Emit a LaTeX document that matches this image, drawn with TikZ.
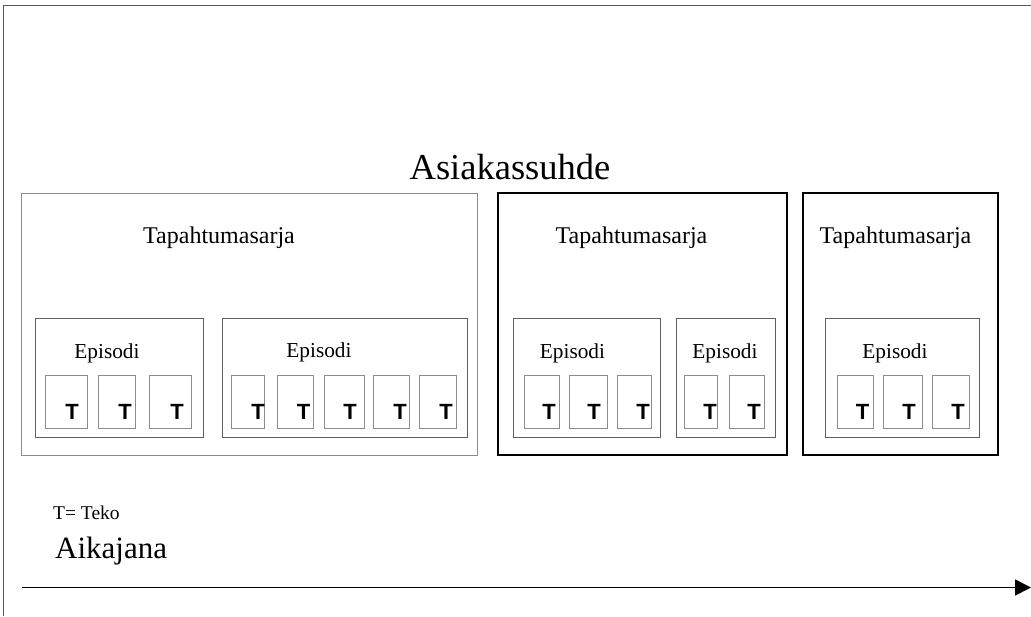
\documentclass[tikz,border=0pt]{standalone}
\usepackage{fontspec}
\setmainfont{Liberation Serif}
\newfontfamily\arialf{Liberation Sans}
\usetikzlibrary{arrows.meta}
\definecolor{framegray}{HTML}{555555}
\definecolor{lightgray}{HTML}{8C8C8C}
\definecolor{midgray}{HTML}{606060}
\begin{document}
\begin{tikzpicture}[x=1pt,y=-1pt,
  serbox/.style={draw=lightgray,line width=1pt},
  serboxdark/.style={draw=black,line width=1.2pt},
  episbox/.style={draw=midgray,line width=1pt},
  tbox/.style={draw=lightgray,line width=1pt},
  sertitle/.style={anchor=base,inner sep=0pt,font=\fontsize{24}{28}\selectfont},
  epititle/.style={anchor=base,inner sep=0pt,font=\fontsize{21.3}{25}\selectfont},
  tletter/.style={anchor=base,inner sep=0pt,font=\arialf\bfseries\fontsize{22}{26}\selectfont},
  rect/.style={inner sep=0pt,anchor=north west}
]
\useasboundingbox (0,0) rectangle (1031,616);
\fill[white] (0,0) rectangle (1031,616);
% outer frame (top and left edges)
\coordinate (fbl) at (3,616);
\coordinate (ftl) at (3,5);
\coordinate (ftr) at (1031,5);
\draw[framegray,line width=1pt] (fbl) -- (ftl) -- (ftr);

\node[anchor=base,inner sep=0pt,font=\fontsize{36.5}{42}\selectfont] (title) at (510,179) {Asiakassuhde};

% series boxes
\draw[serbox] (21,193) rectangle (477,455);
\draw[serboxdark] (498,193) rectangle (787,455);
\draw[serboxdark] (803,193) rectangle (998,455);
\node[sertitle] (s1) at (219,243) {Tapahtumasarja};
\node[sertitle] (s2) at (631.5,243) {Tapahtumasarja};
\node[sertitle] (s3) at (895.5,243) {Tapahtumasarja};

% episode boxes
\draw[episbox] (35,318) rectangle (203,437);
\draw[episbox] (222,318) rectangle (467,437);
\draw[episbox] (513,318) rectangle (660,437);
\draw[episbox] (676,318) rectangle (775,437);
\draw[episbox] (825,318) rectangle (979,437);
\node[epititle] (e1) at (107,358) {Episodi};
\node[epititle] (e2) at (319,357) {Episodi};
\node[epititle] (e3) at (572.5,358) {Episodi};
\node[epititle] (e4) at (725,358) {Episodi};
\node[epititle] (e5) at (895,358) {Episodi};

% T boxes: left, right, letter x
\foreach \l/\r/\t [count=\i] in {45/87/72, 98/135/125, 149/191/177,
  231/264/258, 277/313/303.7, 324/364/350, 373/409/400, 419/456/446,
  524/559/549, 569/607/594, 617/651/643,
  684/717/710, 729/764/754,
  837/873/862.5, 883/922/909, 932/969/958}{
  \draw[tbox] (\l,375) rectangle (\r,428);
  \node[tletter] (t\i) at (\t,419) {T};
}

\node[anchor=base west,inner sep=0pt,font=\fontsize{19.5}{23}\selectfont] (legend) at (53,519) {T= Teko};
\node[anchor=base west,inner sep=0pt,font=\fontsize{31}{36}\selectfont] (aika) at (55,558) {Aikajana};

\coordinate (a0) at (22,587.5);
\coordinate (a1) at (1031,587.5);
\draw[black,line width=1.6pt,-{Triangle[length=16pt,width=16pt]}] (a0) -- (a1);
\end{tikzpicture}
\end{document}
